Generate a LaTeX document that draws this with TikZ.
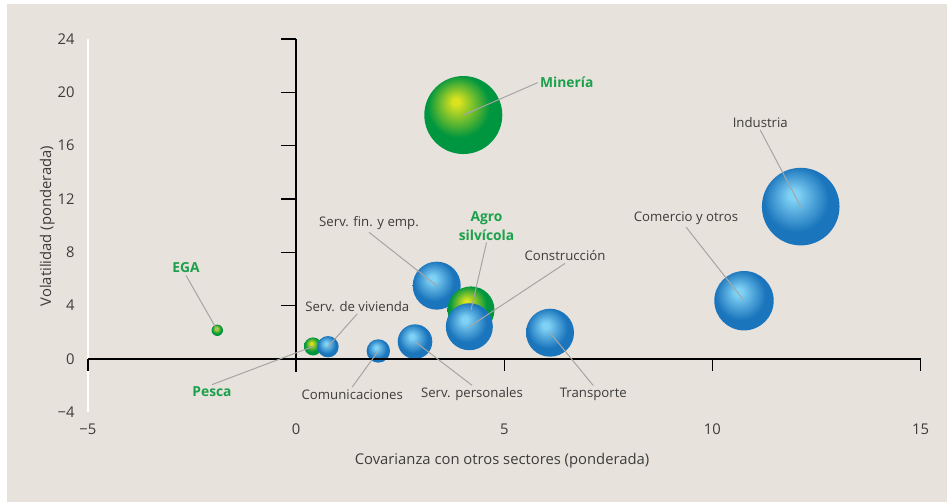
\documentclass[tikz,border=0pt]{standalone}
\usepackage{fontspec}
\setmainfont{Open Sans}
\usepackage{tikz}
\usetikzlibrary{positioning}
\definecolor{ChartBack}{HTML}{E8E2DC}
\definecolor{ChartText}{HTML}{3C3C3C}
\definecolor{ChartGreen}{HTML}{1BA04B}
\definecolor{ChartLeader}{HTML}{A5A5A5}
\definecolor{BlueLight}{HTML}{80D2F5}
\definecolor{BlueMain}{HTML}{1B75BC}
\definecolor{GreenLight}{HTML}{DCE31E}
\definecolor{GreenMain}{HTML}{00963F}
\pgfdeclareradialshading{bubbleblue}{\pgfqpoint{-5bp}{8bp}}{color(0bp)=(BlueLight); color(3bp)=(BlueLight); color(21bp)=(BlueMain); color(50bp)=(BlueMain)}
\pgfdeclareradialshading{bubblegreen}{\pgfqpoint{-5bp}{9bp}}{color(0bp)=(GreenLight); color(2bp)=(GreenLight); color(20bp)=(GreenMain); color(50bp)=(GreenMain)}

\begin{document}
\begin{tikzpicture}[x=20.815pt,y=6.665pt,
    bluebub/.style={circle,inner sep=0pt,shade,shading=bubbleblue},
    greenbub/.style={circle,inner sep=0pt,shade,shading=bubblegreen},
    axlbl/.style={text=ChartText,inner sep=1pt,font=\fontsize{7.4}{9}\selectfont},
    lbl/.style={text=ChartText,inner sep=1pt,font=\fontsize{6.6}{8.4}\selectfont},
    grnlbl/.style={text=ChartGreen,inner sep=1pt,font=\fontsize{6.9}{9.2}\selectfont\bfseries},
    leader/.style={draw=ChartLeader,line width=0.5pt}]
        % Background
        \fill[ChartBack] (-6.945,26.63) rectangle (15.635,-10.728);
        \useasboundingbox (-7.113,-10.728) rectangle (15.635,26.93);
        \draw[white,line width=0.6pt] (-5,24) -- (-5,-4);

        % Bubbles
        \node[greenbub,minimum size=39pt] (bMineria) at (4.016,18.30) {};
        \node[greenbub,minimum size=5.7pt] (bEGA) at (-1.893,2.15) {};
        \node[greenbub,minimum size=9pt] (bPesca) at (0.406,0.94) {};
        \node[bluebub,minimum size=10.7pt] (bVivienda) at (0.766,0.92) {};
        \node[bluebub,minimum size=11.7pt] (bComunic) at (1.975,0.60) {};
        \node[bluebub,minimum size=17.3pt] (bPersonal) at (2.856,1.30) {};
        \node[bluebub,minimum size=24pt] (bFinanc) at (3.377,5.50) {};
        \node[greenbub,minimum size=23.5pt] (bAgro) at (4.201,3.68) {};
        \node[bluebub,minimum size=23.5pt] (bConstr) at (4.161,2.42) {};
        \node[bluebub,minimum size=24pt] (bTransp) at (6.099,1.97) {};
        \node[bluebub,minimum size=29.7pt] (bComercio) at (10.759,4.37) {};
        \node[bluebub,minimum size=38.8pt] (bIndustria) at (12.121,11.43) {};

        % Axes
        \draw[black,line width=1pt] (-5,0) -- (15,0);
        \draw[black,line width=0.7pt] (0,24) -- (0,-1);
        \foreach \y in {4,8,...,24}
          \draw[black,line width=0.7pt] (0,\y) -- ++(-7.5pt,0);
        \foreach \x in {-5,5,10,15}
          \draw[black,line width=0.6pt] (\x,0) -- ++(0,-6pt);
        \foreach \y in {-4,0,4,...,24}
          \node[axlbl,anchor=east] at (-5.263,\y) {\ifnum\y<0 −\the\numexpr-\y\relax\else\y\fi};
        \foreach \x in {-5,0,5,10,15}
          \node[axlbl] at (\x,-5.3) {\ifnum\x<0 −\the\numexpr-\x\relax\else\x\fi};
        \node[axlbl,rotate=90] (yTitle) at (-5.98,9.98) {Volatilidad (ponderada)};
        \node[axlbl] (xTitle) at (4.946,-7.6) {Covarianza con otros sectores (ponderada)};

        % Labels
        \node[grnlbl] (lMineria) at (6.50,20.73) {Minería};
        \node[grnlbl] (lEGA) at (-2.645,6.83) {EGA};
        \node[grnlbl] (lPesca) at (-2.02,-2.48) {Pesca};
        \node[lbl] (lVivienda) at (1.47,3.95) {Serv. de vivienda};
        \node[lbl] (lComunic) at (1.348,-2.65) {Comunicaciones};
        \node[lbl] (lPersonal) at (4.225,-2.65) {Serv. personales};
        \node[lbl] (lFinanc) at (1.751,10.18) {Serv. fin. y emp.};
        \node[grnlbl,align=center] (lAgro) at (4.574,9.98) {Agro\\silvícola};
        \node[lbl] (lConstr) at (6.459,7.73) {Construcción};
        \node[lbl] (lTransp) at (7.139,-2.65) {Transporte};
        \node[lbl] (lComercio) at (9.366,10.56) {Comercio y otros};
        \node[lbl] (lIndustria) at (11.15,17.73) {Industria};

        % Leader lines
        \draw[leader] (lMineria.west) -- (bMineria.center);
        \draw[leader] (lEGA.south) -- (bEGA.center);
        \draw[leader] (lPesca.north) -- (bPesca.center);
        \draw[leader] (lVivienda.south) -- (bVivienda.center);
        \draw[leader] (lComunic.north) -- (bComunic.center);
        \draw[leader] (lPersonal.north) -- (bPersonal.center);
        \draw[leader] (lFinanc.south) -- (bFinanc.center);
        \draw[leader] (lAgro.south) -- (bAgro.center);
        \draw[leader] (lConstr.south) -- (bConstr.center);
        \draw[leader] (lTransp.north) -- (bTransp.center);
        \draw[leader] (lComercio.south) -- (bComercio.center);
        \draw[leader] (lIndustria.south) -- (bIndustria.center);
      \end{tikzpicture}
\end{document}
